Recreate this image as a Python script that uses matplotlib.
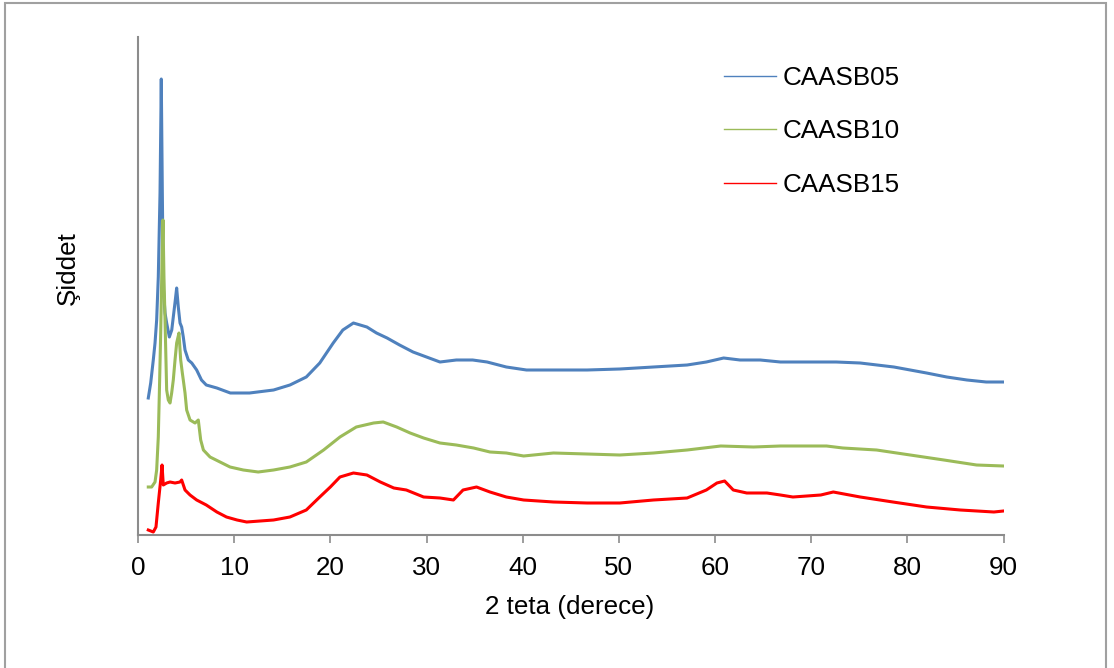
import matplotlib
matplotlib.use("Agg")
import matplotlib.pyplot as plt
from matplotlib.lines import Line2D
from matplotlib.patches import Rectangle

plt.rcParams['font.family'] = ['Liberation Sans', 'DejaVu Sans']

# CAASB05
x05 = [1.07, 1.32, 1.59, 1.77, 1.94, 2.11, 2.29, 2.42, 2.53, 2.63, 2.81, 2.98, 3.26, 3.51,
       3.67, 3.88, 4.02, 4.19, 4.37, 4.54, 4.71, 4.89, 5.23, 5.59, 6.1, 6.6, 7.1, 8.2, 9.6,
       10.6, 11.6, 14.1, 15.8, 17.5, 18.9, 20.3, 21.3, 22.4, 23.8, 24.8, 25.9, 27.2, 28.6,
       30.0, 31.4, 33.1, 34.8, 36.3, 38.3, 40.4, 43.2, 46.7, 50.1, 53.6, 57.1, 59.1, 60.9,
       62.6, 64.7, 66.8, 68.1, 72.6, 75.1, 78.6, 80.3, 82.0, 84.1, 86.2, 88.2, 90.0]
y05 = [137, 152, 175, 192, 215, 258, 342, 456, 342, 248, 222, 212, 198, 205,
       218, 235, 247, 228, 212, 208, 198, 185, 175, 172, 165, 155, 150, 147, 142,
       142, 142, 145, 150, 158, 172, 192, 205, 212, 208, 202, 197, 190, 183,
       178, 173, 175, 175, 173, 168, 165, 165, 165, 166, 168, 170, 173, 177,
       175, 175, 173, 173, 173, 172, 168, 165, 162, 158, 155, 153, 153]

# CAASB10
x10 = [1.07, 1.42, 1.77, 1.94, 2.11, 2.22, 2.36, 2.5, 2.6, 2.7, 2.81, 2.98, 3.15, 3.33,
       3.5, 3.67, 3.85, 4.02, 4.26, 4.44, 4.61, 4.71, 4.89, 5.06, 5.41, 5.93, 6.27, 6.52,
       6.8, 7.49, 8.53, 9.57, 10.95, 12.5, 14.1, 15.8, 17.5, 19.3, 21.0, 22.7, 24.5, 25.5,
       26.9, 28.3, 29.7, 31.4, 33.1, 34.9, 36.6, 38.3, 40.1, 43.2, 46.7, 50.1, 53.6, 57.1,
       60.6, 64.0, 66.8, 68.1, 71.6, 73.3, 76.8, 80.3, 83.8, 87.2, 90.0]
y10 = [48, 48, 53, 65, 98, 142, 202, 275, 315, 258, 215, 145, 135, 132,
       142, 155, 175, 192, 202, 175, 162, 155, 142, 125, 115, 112, 115, 95,
       85, 78, 73, 68, 65, 63, 65, 68, 73, 85, 98, 108, 112, 113,
       108, 102, 97, 92, 90, 87, 83, 82, 79, 82, 81, 80, 82, 85,
       89, 88, 89, 89, 89, 87, 85, 80, 75, 70, 69]

# CAASB15
x15 = [1.07, 1.59, 1.87, 2.11, 2.36, 2.5, 2.63, 2.98, 3.33, 3.85, 4.37, 4.54, 4.89, 5.41,
       6.1, 7.1, 8.2, 9.2, 10.3, 11.3, 14.1, 15.8, 17.5, 18.9, 20.0, 21.0, 22.4, 23.8,
       25.2, 26.6, 27.9, 29.7, 31.4, 32.8, 33.8, 35.2, 36.6, 38.3, 40.1, 43.2, 46.7, 50.1,
       53.6, 57.1, 59.1, 60.2, 61.0, 61.9, 63.3, 65.4, 66.8, 68.1, 71.0, 72.3, 75.1, 78.5,
       82.0, 85.5, 89.0, 90.0]
y15 = [5, 3, 8, 32, 55, 70, 50, 52, 53, 52, 53, 55, 45, 40,
       35, 30, 23, 18, 15, 13, 15, 18, 25, 38, 48, 58, 62, 60,
       53, 47, 45, 38, 37, 35, 45, 48, 43, 38, 35, 33, 32, 32,
       35, 37, 45, 52, 54, 45, 42, 42, 40, 38, 40, 43, 38, 33,
       28, 25, 23, 24]

names = ['CAASB05', 'CAASB10', 'CAASB15']
colors = ['#4F81BD', '#9BBB59', '#FF0000']
xticks = [0, 10, 20, 30, 40, 50, 60, 70, 80, 90]

fig = plt.figure(figsize=(11.14, 6.68), dpi=100)
ax = fig.add_axes([138 / 1114, 133 / 668, 865.5 / 1114, 498 / 668])

for xs, ys, c in zip([x05, x10, x15], [y05, y10, y15], colors):
    ax.plot(xs, ys, color=c, lw=2.2, solid_joinstyle='round')

ax.set_xlim(0, 90)
ax.set_ylim(0, 498)
ax.set_xticks(xticks)
ax.set_yticks([])
for side in ['top', 'right']:
    ax.spines[side].set_visible(False)
for side in ['left', 'bottom']:
    ax.spines[side].set_color('#8C8C8C')
    ax.spines[side].set_linewidth(1.5)
ax.tick_params(axis='x', direction='out', length=6, width=1.2, color='#8C8C8C',
               labelsize=18.7, pad=9)

ax.set_xlabel('2 teta (derece)', fontsize=18.7)
ax.xaxis.set_label_coords(0.499, -0.145)
ax.xaxis.label.set_va('center')
ax.set_ylabel('Şiddet', fontsize=18.7)
ax.yaxis.set_label_coords(-0.081, 0.536)
ax.yaxis.label.set_va('center')

handles = [Line2D([], [], color=c, lw=1.0) for c in colors]
ax.legend(handles, names, loc='upper left', bbox_to_anchor=(724 / 1114, 1 - 66 / 668),
          bbox_transform=fig.transFigure, frameon=False, fontsize=18.7,
          handlelength=2.0, handletextpad=0.25, labelspacing=1.13,
          borderpad=0, borderaxespad=0)

# chart area border
fig.patches.append(Rectangle((5 / 1114, -0.05), 1101 / 1114, 1.05 - 3 / 668,
                             transform=fig.transFigure, fill=False,
                             edgecolor='#A0A0A0', lw=1.5))

fig.savefig('out.png', dpi=100)
